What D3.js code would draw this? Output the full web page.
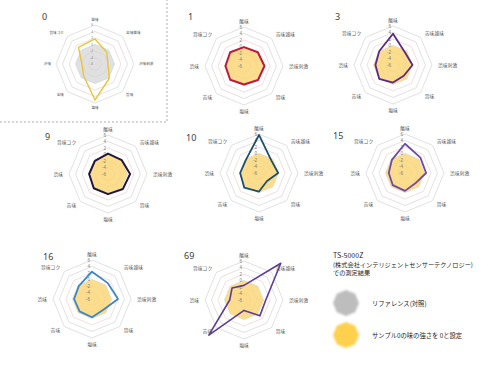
<!DOCTYPE html>
<html><head><meta charset="utf-8">
<script src="https://cdn.jsdelivr.net/npm/d3@7/dist/d3.min.js"></script>
<style>
html,body{margin:0;padding:0;background:#fff;}
svg{display:block;}
</style></head>
<body>
<svg id="c" width="490" height="368"></svg>
<script>
// ---- data ----
const axes = ["酸味","苦味雑味","渋味刺激","旨味","塩味","苦味","渋味","旨味コク"];
const tickValues = [6,4,2,0,-2,-4,-6];
const ringValues = [6,4,2,0,-2,-4];
const chartIds = ["0","1","3","9","10","15","16","69"];
const reference = [0,0,0,0,0,0,0,0];
const sample0Rel = [1.7,-0.9,-2.0,0.2,5.1,-1.0,-2.0,1.2];
const sample0 = [0,0,0,0,0,0,0,0];
const s1  = [-0.2,0,0.3,0.1,-0.3,0,-0.3,0];
const s3  = [3.6,-0.7,0,-1.3,-0.6,0,-0.6,0];
const s9  = [0.3,0,0.8,0.5,0.2,0.2,-0.2,-0.3];
const s10 = [5.7,-0.6,-0.1,-2.5,-0.3,0.4,-0.2,-0.3];
const s15 = [3,0.7,0.5,-1.5,-0.5,-0.7,-1,-0.3];
const s16 = [2.4,0.9,2,-1.2,-0.4,-0.6,-0.5,-0.3];
const s69 = [-1.5,10,0.7,0.9,-2.8,9.3,-1.6,-0.8];
const legendTitle = ["TS-5000Z","(株式会社インテリジェントセンサーテクノロジー)","での測定結果"];
const legendItems = ["リファレンス(対照)","サンプル0の味の強さを 0と設定"];

// ---- layout ----
const panels = [
  {id:"0", cx:95, cy:64, R:39, tx:42, ty:20, series:sample0Rel, color:"#e8c53a", w:1.4, base:reference, baseColor:"#d4d4d4", small:true},
  {id:"1", cx:244, cy:66, R:39, tx:188, ty:20, series:s1, color:"#c0183c", w:2},
  {id:"3", cx:393, cy:65, R:39, tx:335, ty:20, series:s3, color:"#5b2a86", w:1.8},
  {id:"9", cx:108, cy:174, R:39, tx:45, ty:140, series:s9, color:"#201640", w:2},
  {id:"10", cx:259, cy:173, R:39, tx:186, ty:141, series:s10, color:"#1d4f6e", w:1.8},
  {id:"15", cx:405, cy:173, R:39, tx:333, ty:139, series:s15, color:"#6e4aa8", w:1.8},
  {id:"16", cx:92, cy:299, R:39, tx:43, ty:260, series:s16, color:"#3f86c4", w:1.8},
  {id:"69", cx:244, cy:300, R:39, tx:184, ty:259, series:s69, color:"#5c3d98", w:1.6}
];

const svg = d3.select("#c");
const defs = svg.append("defs");
defs.append("filter").attr("id","soft").attr("x","-20%").attr("y","-20%").attr("width","140%").attr("height","140%")
  .append("feGaussianBlur").attr("stdDeviation",0.7);
defs.append("filter").attr("id","soft2").attr("x","-30%").attr("y","-30%").attr("width","160%").attr("height","160%")
  .append("feGaussianBlur").attr("stdDeviation",1.1);

const ang = d3.scaleLinear().domain([0, axes.length]).range([0, 2*Math.PI]);
const jp = "'Noto Sans CJK JP','Noto Sans',sans-serif";
const ringColor = v => v===2 ? "#efd6d6" : (v===0 ? "#c9dcec" : "#d9d9d9");

panels.forEach(p => {
  const r = d3.scaleLinear().domain([-6,6]).range([0,p.R]);
  const g = svg.append("g").attr("transform",`translate(${p.cx},${p.cy})`);
  const radial = d3.lineRadial().angle((d,i)=>ang(i)).radius(d=>r(d)).curve(d3.curveLinearClosed);
  ringValues.forEach(v => {
    g.append("path").attr("d", radial(axes.map(()=>v)))
      .attr("fill","none").attr("stroke", ringColor(v)).attr("stroke-width",0.8);
  });
  if (p.small) {
    g.append("path").attr("d", radial(p.base)).attr("fill", p.baseColor).attr("opacity",0.7).attr("filter","url(#soft)");
  } else {
    g.append("path").attr("d", radial(sample0)).attr("fill","#fcd77a").attr("opacity",0.85).attr("filter","url(#soft)");
  }
  const fsT = p.small ? 3.2 : 4.6;
  tickValues.forEach(v => {
    g.append("text").attr("x",-2).attr("y",-r(v)+fsT*0.4)
      .attr("text-anchor","end").attr("font-size",fsT).attr("fill","#7f7f7f")
      .attr("font-family","'Liberation Sans',sans-serif").text(v);
  });
  g.append("path").attr("d", radial(p.series)).attr("fill","none")
    .attr("stroke", p.color).attr("stroke-width", p.w).attr("stroke-linejoin","round");
  const fs = p.small ? 3.6 : 4.8;
  const lr = p.R + (p.small ? 5 : 6);
  axes.forEach((a,i) => {
    const t = ang(i);
    const x = Math.sin(t)*lr, y = -Math.cos(t)*lr;
    let anchor = "middle";
    if (Math.sin(t) > 0.3) anchor = "start";
    if (Math.sin(t) < -0.3) anchor = "end";
    g.append("text").attr("x",x).attr("y",y+fs*0.35).attr("text-anchor",anchor)
      .attr("font-size",fs).attr("fill","#595959").attr("font-family",jp).text(a);
  });
  svg.append("text").attr("x",p.tx).attr("y",p.ty).attr("font-size",9)
    .attr("fill","#404040").attr("font-family","'Noto Sans',sans-serif").text(p.id);
});

svg.append("path").attr("d","M0,122 H167 V0").attr("fill","none")
  .attr("stroke","#9a9a9a").attr("stroke-width",0.8).attr("stroke-dasharray","2,2");

const lg = svg.append("g");
legendTitle.forEach((t,i)=>{
  lg.append("text").attr("x",333).attr("y",258+i*8.5).attr("font-size",i===0?7:6.2)
    .attr("fill","#262626").attr("font-family",jp).text(t);
});
const oct = d3.lineRadial().angle((d,i)=>ang(i)).radius(d=>d).curve(d3.curveLinearClosed);
const legColors = ["#bdbdbd","#fdd04e"];
legendItems.forEach((t,i)=>{
  const cy = 303 + i*32;
  lg.append("path").attr("transform",`translate(346,${cy})`).attr("d", oct(axes.map(()=>13)))
    .attr("fill",legColors[i]).attr("filter","url(#soft2)");
  lg.append("text").attr("x",372).attr("y",cy+2.5).attr("font-size",6.3)
    .attr("fill","#262626").attr("font-family",jp).text(t);
});
</script>
</body></html>
